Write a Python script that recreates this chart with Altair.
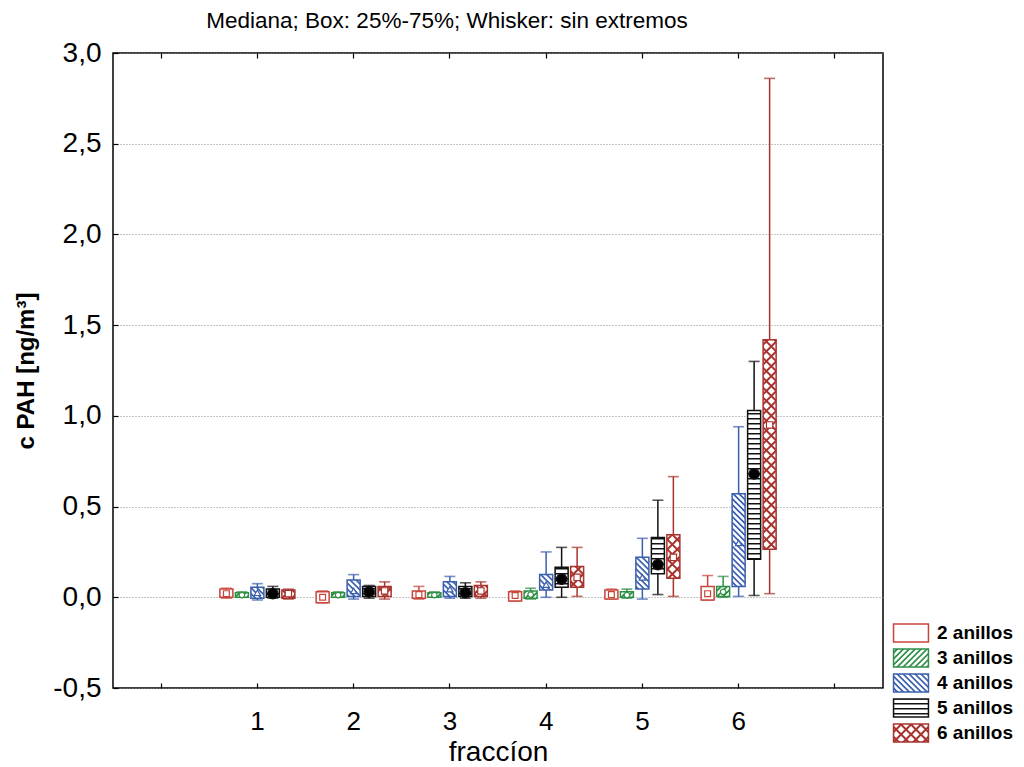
import altair as alt
import pandas as pd
import jinja2

# ---------------- data ----------------
fracciones = ["1", "2", "3", "4", "5", "6"]
x_positions = ["0", "1", "2", "3", "4", "5", "6", "7"]
series = ["2 anillos", "3 anillos", "4 anillos", "5 anillos", "6 anillos"]
y_ticks = [-0.5, 0.0, 0.5, 1.0, 1.5, 2.0, 2.5, 3.0]

# rows: series, columns: fraccion 1..6
whisker_low = [
    [-0.005, -0.03, -0.01, -0.02, -0.01, -0.015],
    [0.0, 0.0, 0.0, -0.01, -0.005, 0.0],
    [-0.015, -0.01, -0.005, 0.0, -0.01, 0.005],
    [-0.005, -0.005, -0.005, 0.0, 0.015, 0.01],
    [-0.01, -0.01, -0.005, 0.005, 0.005, 0.02],
]
box_q25 = [
    [0.0, -0.03, -0.005, -0.02, -0.01, -0.015],
    [0.0, 0.0, 0.0, -0.005, 0.0, 0.005],
    [-0.005, 0.005, 0.005, 0.04, 0.045, 0.06],
    [0.0, 0.005, 0.005, 0.055, 0.13, 0.21],
    [-0.005, 0.005, 0.005, 0.055, 0.105, 0.265],
]
mediana = [
    [0.02, 0.0, 0.015, 0.01, 0.015, 0.02],
    [0.012, 0.012, 0.012, 0.015, 0.012, 0.03],
    [0.025, 0.035, 0.045, 0.07, 0.11, 0.30],
    [0.02, 0.03, 0.025, 0.10, 0.18, 0.68],
    [0.02, 0.035, 0.035, 0.11, 0.22, 0.95],
]
box_q75 = [
    [0.045, 0.03, 0.035, 0.03, 0.04, 0.06],
    [0.025, 0.025, 0.025, 0.035, 0.03, 0.06],
    [0.055, 0.095, 0.085, 0.125, 0.22, 0.57],
    [0.045, 0.06, 0.06, 0.165, 0.33, 1.03],
    [0.04, 0.06, 0.065, 0.17, 0.345, 1.42],
]
whisker_high = [
    [0.05, 0.035, 0.06, 0.035, 0.045, 0.12],
    [0.03, 0.03, 0.03, 0.05, 0.045, 0.115],
    [0.075, 0.125, 0.115, 0.25, 0.325, 0.94],
    [0.06, 0.065, 0.08, 0.275, 0.535, 1.30],
    [0.045, 0.085, 0.085, 0.275, 0.665, 2.86],
]

# ---------------- styles ----------------
line_colors = ["#c8453c", "#2f8f46", "#3a5fae", "#111111", "#a8322d"]
pattern_fills = ["#ffffff", "url(#hatch3)", "url(#hatch4)", "url(#hatch5)", "url(#hatch6)"]
plain_fills = ["#ffffff", "#cfe8d3", "#cdd6ee", "#cfcfcf", "#ecc9c6"]
median_shapes = ["square", "circle", "triangle-up", "circle", "square"]
median_sizes = [34, 30, 40, 110, 40]

PATTERN_SVG = (
    '<svg width="0" height="0" style="position:absolute;left:0;top:0" aria-hidden="true"><defs>'
    '<pattern id="hatch3" patternUnits="userSpaceOnUse" width="4.2" height="4.2" patternTransform="rotate(45)">'
    '<rect width="4.2" height="4.2" fill="#ffffff"/><rect width="1.7" height="4.2" fill="#2f8f46"/></pattern>'
    '<pattern id="hatch4" patternUnits="userSpaceOnUse" width="4.2" height="4.2" patternTransform="rotate(-45)">'
    '<rect width="4.2" height="4.2" fill="#ffffff"/><rect width="1.7" height="4.2" fill="#3a5fae"/></pattern>'
    '<pattern id="hatch5" patternUnits="userSpaceOnUse" width="6" height="5">'
    '<rect width="6" height="5" fill="#ffffff"/><rect width="6" height="1.5" fill="#111111"/></pattern>'
    '<pattern id="hatch6" patternUnits="userSpaceOnUse" width="7" height="7" patternTransform="rotate(45)">'
    '<rect width="7" height="7" fill="#ffffff"/><rect width="2" height="7" fill="#a8322d"/>'
    '<rect width="7" height="2" fill="#a8322d"/></pattern>'
    '</defs></svg>'
)
EXTRA_CSS = "<style>html,body{overflow:hidden}</style>"

page_template = None
try:
    from altair.utils.html import TEMPLATES as _ALT_TEMPLATES
    _base_template = _ALT_TEMPLATES["standard"]

    class PatternTemplate(jinja2.Template):
        def render(self, *args, **kwargs):
            html = _base_template.render(*args, **kwargs)
            if "</head>" in html:
                html = html.replace("</head>", EXTRA_CSS + "</head>", 1)
            if "</body>" in html:
                html = html.replace("</body>", PATTERN_SVG + "</body>", 1)
            else:
                html = html + PATTERN_SVG
            return html

    page_template = PatternTemplate("")
except Exception:
    page_template = None

box_fills = pattern_fills if page_template is not None else plain_fills

# ---------------- table ----------------
rows = []
for si, s in enumerate(series):
    for fi, f in enumerate(fracciones):
        rows.append(
            dict(
                fraccion=f,
                serie=s,
                low=whisker_low[si][fi],
                q1=box_q25[si][fi],
                med=mediana[si][fi],
                q3=box_q75[si][fi],
                high=whisker_high[si][fi],
            )
        )
df = pd.DataFrame(rows)

FONT = "Liberation Sans, Arial, Helvetica, sans-serif"

x_scale = alt.Scale(type="band", domain=x_positions, paddingInner=0.195, paddingOuter=0.0975)
xo_scale = alt.Scale(type="band", domain=series, paddingInner=0, paddingOuter=0)
y_scale = alt.Scale(domain=[-0.5, 3.0], nice=False, zero=False)
# legend scales (explicit domain) and mark colour scale (data-driven domain)
stroke_scale = alt.Scale(domain=series, range=line_colors)
fill_scale = alt.Scale(domain=series, range=box_fills)
color_scale = alt.Scale(range=line_colors)

bottom_axis = alt.Axis(
    orient="bottom", offset=-5, domain=False, grid=False, tickSize=5, tickWidth=1.2,
    tickColor="black", labelAngle=0, labelFontSize=26, labelPadding=20,
    labelExpr="datum.value == '0' || datum.value == '7' ? '' : datum.label",
    title="fraccíon", titleFontSize=28, titleFontWeight="normal", titlePadding=4,
)
top_axis = alt.Axis(
    orient="top", offset=-5, domain=False, grid=False, tickSize=5, tickWidth=1.2,
    tickColor="black", labels=False, title=None,
)
left_axis = alt.Axis(
    orient="left", offset=-5, domain=False, grid=False, tickSize=5, tickWidth=1.2,
    tickColor="black", values=y_ticks, format=".1f",
    labelExpr="replace(replace(datum.label, '.', ','), '\u2212', '-')",
    labelFontSize=28, labelPadding=12,
    title="c PAH [ng/m³]", titleFontSize=24, titleFontWeight="bold", titlePadding=14,
)
right_axis = alt.Axis(
    orient="right", offset=0, domain=False, ticks=False, labels=False, title=None,
    grid=True, values=y_ticks, gridColor="#8c8c8c", gridDash=[1, 2], gridWidth=1,
)

legend = alt.Legend(
    title=None, orient="none", legendX=788, legendY=570, padding=0,
    symbolType="M-1.94,-1H1.94V1H-1.94Z", symbolSize=324, symbolStrokeWidth=1.5,
    labelFont=FONT, labelFontSize=19, labelFontWeight="bold", labelColor="black",
    labelOffset=16, rowPadding=1, labelLimit=0,
)

base = alt.Chart(df)

whiskers = base.mark_rule(strokeWidth=1.5).encode(
    x=alt.X("fraccion:N", scale=x_scale, axis=top_axis),
    xOffset=alt.XOffset("serie:N", scale=xo_scale),
    y=alt.Y("low:Q", scale=y_scale, axis=right_axis),
    y2="high:Q",
    color=alt.Color("serie:N", scale=color_scale, legend=None),
)

cap_low = base.mark_tick(size=11, thickness=1.6).encode(
    x=alt.X("fraccion:N", scale=x_scale, axis=None),
    xOffset=alt.XOffset("serie:N", scale=xo_scale),
    y=alt.Y("low:Q", scale=y_scale, axis=None),
    color=alt.Color("serie:N", scale=color_scale, legend=None),
)
cap_high = base.mark_tick(size=11, thickness=1.6).encode(
    x=alt.X("fraccion:N", scale=x_scale, axis=None),
    xOffset=alt.XOffset("serie:N", scale=xo_scale),
    y=alt.Y("high:Q", scale=y_scale, axis=None),
    color=alt.Color("serie:N", scale=color_scale, legend=None),
)

boxes = base.mark_bar(size=13, strokeWidth=1.5, opacity=1).encode(
    x=alt.X("fraccion:N", scale=x_scale, axis=bottom_axis),
    xOffset=alt.XOffset("serie:N", scale=xo_scale),
    y=alt.Y("q1:Q", scale=y_scale, axis=left_axis),
    y2="q3:Q",
    fill=alt.Fill("serie:N", scale=fill_scale, legend=legend),
    stroke=alt.Stroke("serie:N", scale=stroke_scale, legend=legend),
)

medians = base.mark_point(filled=False, strokeWidth=1.2, opacity=1).encode(
    x=alt.X("fraccion:N", scale=x_scale, axis=None),
    xOffset=alt.XOffset("serie:N", scale=xo_scale),
    y=alt.Y("med:Q", scale=y_scale, axis=None),
    color=alt.Color("serie:N", scale=color_scale, legend=None),
    shape=alt.Shape("serie:N", scale=alt.Scale(range=median_shapes), legend=None),
    size=alt.Size("serie:N", scale=alt.Scale(type="ordinal", range=median_sizes), legend=None),
    fill=alt.condition("datum.serie == '5 anillos'", alt.value("#000000"), alt.value("#ffffff")),
)

chart = (
    alt.layer(whiskers, cap_low, cap_high, boxes, medians)
    .resolve_axis(x="independent", y="independent")
    .properties(
        width=770,
        height=635,
        autosize=alt.AutoSizeParams(type="none"),
        padding={"left": 105, "top": 45, "right": 133, "bottom": 79},
        background="white",
        title=alt.TitleParams(
            text="Mediana; Box: 25%-75%; Whisker: sin extremos",
            font="Liberation Sans Narrow, Liberation Sans, Arial, sans-serif",
            fontSize=22.5, fontWeight="normal", color="black",
            anchor="middle", dx=-51, offset=7,
        ),
    )
    .configure_view(stroke="black", strokeWidth=1.5)
    .configure_axis(labelFont=FONT, titleFont=FONT, labelColor="black", titleColor="black")
)

if page_template is not None:
    chart.save("out.html", embed_options={"renderer": "svg", "actions": False}, template=page_template)
else:
    chart.save("out.html", embed_options={"renderer": "svg", "actions": False})
